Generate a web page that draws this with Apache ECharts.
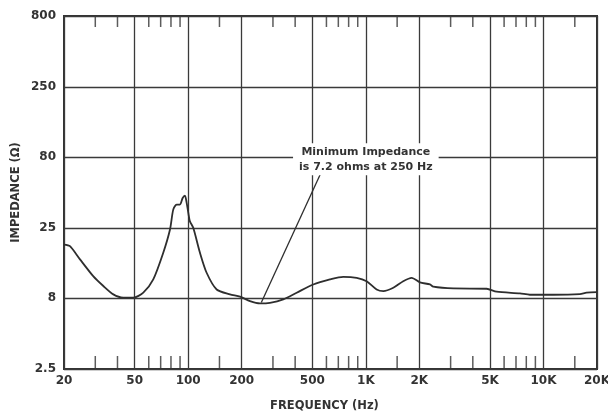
<!DOCTYPE html>
<html>
<head>
<meta charset="utf-8">
<script src="https://cdn.jsdelivr.net/npm/echarts@6/dist/echarts.min.js"></script>
<style>html,body{margin:0;padding:0;background:#fff}#c{width:608px;height:415px}</style>
</head>
<body>
<div id="c"></div>
<script>
var freqHz = [20,21.6,24.6,29.2,33.3,37.9,43.1,49.1,55.9,63.6,72.4,79,82.4,86.1,89.9,93.1,95.9,98,100.1,102.3,106.8,116.5,127,144.6,171.8,195.7,222.7,253.5,288.5,342.9,408,506,628,746,888,1010,1150,1254,1427,1623,1810,2016,2296,2395,3105,4785,5446,7366,8385,11340,16030,17470,20000];
var impedanceOhm = [19.1,18.6,15.0,11.4,9.7,8.46,8.02,8.02,8.7,10.8,16.7,24.4,33.8,36.7,36.7,40.9,42.5,37.9,32.2,27.9,25.1,16.7,12.05,9.17,8.46,8.15,7.58,7.3,7.37,7.8,8.7,9.95,10.8,11.28,11.1,10.5,9.17,8.92,9.43,10.5,11.1,10.3,9.95,9.59,9.32,9.28,8.84,8.6,8.41,8.41,8.5,8.7,8.77];
var xMajorTicks = [20,50,100,200,500,1000,2000,5000,10000,20000];
var xMajorLabels = ['20','50','100','200','500','1K','2K','5K','10K','20K'];
var xMinorTicks = [30,40,60,70,80,90,150,300,400,600,700,800,900,1500,3000,4000,6000,7000,8000,9000,15000];
var yTicks = [2.5,8,25,80,250,800];
var yLabels = ['2.5','8','25','80','250','800'];
var annotation = {text:'Minimum Impedance\nis 7.2 ohms at 250 Hz', at:[1000,77], from:[258,7.4], to:[560,62]};

var X_MIN = 20, X_MAX = 20000, Y_MIN = 2.5, Y_MAX = 800;
var FONT = '"DejaVu Sans", "Liberation Sans", Arial, sans-serif';
var INK = '#333';

var curve = freqHz.map(function(f,i){return [f, impedanceOhm[i]];});

var gridLines = [];
xMajorTicks.forEach(function(f,i){
  gridLines.push({xAxis:f, label:{show:true, position:'start', formatter:xMajorLabels[i], distance:6,
    color:INK, fontSize:12, fontWeight:'bold', fontFamily:FONT}});
});
yTicks.forEach(function(v,i){
  gridLines.push({yAxis:v, label:{show:true, position:'start', formatter:yLabels[i], distance:8,
    color:INK, fontSize:12, fontWeight:'bold', fontFamily:FONT}});
});

var chart = echarts.init(document.getElementById('c'), null, {renderer:'canvas'});
chart.setOption({
  backgroundColor:'#fff',
  animation:false,
  grid:{left:64, top:16, right:11, bottom:46, show:true, borderColor:INK, borderWidth:2, backgroundColor:'transparent',
    containLabel:false, outerBoundsMode:'none'},
  xAxis:{type:'log', logBase:10, min:X_MIN, max:X_MAX,
    name:'FREQUENCY (Hz)', nameLocation:'middle', nameGap:31,
    nameTextStyle:{color:INK, fontSize:11.5, fontWeight:'bold', fontFamily:FONT, padding:[0,12,0,0]},
    axisLine:{show:false}, axisTick:{show:false}, axisLabel:{show:false}, splitLine:{show:false}, minorTick:{show:false}},
  yAxis:{type:'log', logBase:10, min:Y_MIN, max:Y_MAX,
    name:'IMPEDANCE (\u03A9)', nameLocation:'middle', nameGap:42, nameRotate:90,
    nameTextStyle:{color:INK, fontSize:11.5, fontWeight:'bold', fontFamily:FONT},
    axisLine:{show:false}, axisTick:{show:false}, axisLabel:{show:false}, splitLine:{show:false}},
  series:[
    {type:'line', name:'grid', data:[], silent:true, z:1,
      markLine:{silent:true, symbol:['none','none'], animation:false,
        lineStyle:{color:'#3a3a3a', width:1.3, type:'solid'},
        data:gridLines}},
    {type:'scatter', name:'bottomTicks', silent:true, z:2,
      data:xMinorTicks.map(function(f){return [f, Y_MIN];}),
      symbol:'rect', symbolSize:[1.5,13], symbolOffset:[0,-6.5],
      itemStyle:{color:INK}},
    {type:'scatter', name:'topTicks', silent:true, z:2,
      data:xMinorTicks.map(function(f){return [f, Y_MAX];}),
      symbol:'rect', symbolSize:[1.5,11], symbolOffset:[0,5.5],
      itemStyle:{color:INK}},
    {type:'line', name:'impedance', data:curve, smooth:0.25, showSymbol:false, z:5,
      lineStyle:{color:'#2e2e2e', width:1.8},
      markLine:{silent:true, symbol:['none','none'], animation:false,
        lineStyle:{color:'#2e2e2e', width:1.3, type:'solid'}, label:{show:false},
        data:[[{coord:annotation.from},{coord:annotation.to}]]},
      markPoint:{silent:true, animation:false, symbol:'rect', symbolSize:1, itemStyle:{color:'rgba(0,0,0,0)'},
        data:[{coord:annotation.at, label:{show:true, position:'inside', formatter:annotation.text,
          color:INK, fontSize:11, fontWeight:'bold', fontFamily:FONT, lineHeight:15,
          backgroundColor:'#fff', padding:[1,6], align:'center', verticalAlign:'middle'}}]}}
  ]
});
</script>
</body>
</html>
